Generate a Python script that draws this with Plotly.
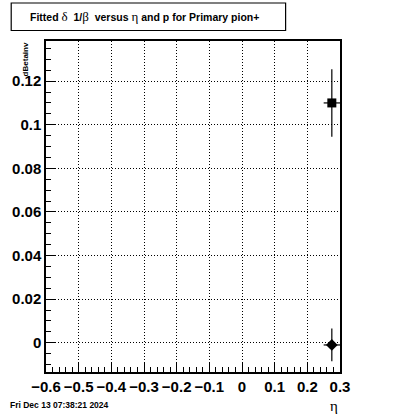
import plotly.graph_objects as go

# Data
eta_vals = [0.275, 0.275]
eta_err = [0.025, 0.025]
dbeta_vals = [0.110, -0.001]
dbeta_err = [0.0155, 0.0075]
marker_symbols = ["square", "diamond"]

x_ticks = [-0.6, -0.5, -0.4, -0.3, -0.2, -0.1, 0.0, 0.1, 0.2, 0.3]
x_ticklabels = ["\u22120.6", "\u22120.5", "\u22120.4", "\u22120.3", "\u22120.2", "\u22120.1", "0", "0.1", "0.2", "0.3"]
y_ticks = [0.0, 0.02, 0.04, 0.06, 0.08, 0.10, 0.12]
y_ticklabels = ["0", "0.02", "0.04", "0.06", "0.08", "0.1", "0.12"]

W, H = 400, 414
L, R, T, B = 40, 60, 41, 42
pw, ph = W - L - R, H - T - B

def px(x):
    return (x - L) / pw

def py(y):
    return (H - B - y) / ph

fig = go.Figure()
for i in range(len(eta_vals)):
    fig.add_trace(go.Scatter(
        x=[eta_vals[i]], y=[dbeta_vals[i]], mode="markers",
        marker=dict(symbol=marker_symbols[i], color="black", size=9,
                    line=dict(width=0)),
        error_x=dict(type="data", array=[eta_err[i]], color="black", thickness=1.2, width=0),
        error_y=dict(type="data", array=[dbeta_err[i]], color="black", thickness=1.2, width=0),
        showlegend=False,
    ))

tickfont = dict(family="Liberation Sans, Arial", size=15, color="black")
griddash = "1px,2px"

fig.update_layout(
    width=W, height=H,
    margin=dict(l=L, r=R, t=T, b=B),
    paper_bgcolor="white", plot_bgcolor="white",
    xaxis=dict(
        range=[-0.6, 0.3], tickvals=x_ticks, ticktext=[f"<b>{t}</b>" for t in x_ticklabels],
        tickfont=tickfont, ticks="inside", ticklen=9, tickcolor="black", tickwidth=1,
        minor=dict(ticks="inside", ticklen=5, dtick=0.02, tick0=0, tickcolor="black", showgrid=False),
        showgrid=True, gridcolor="black", griddash=griddash, gridwidth=1,
        showline=True, linecolor="black", linewidth=1.5, mirror=True, zeroline=False,
    ),
    yaxis=dict(
        range=[-0.0134, 0.1384], tickvals=y_ticks, ticktext=[f"<b>{t}</b>" for t in y_ticklabels],
        tickfont=tickfont, ticks="inside", ticklen=9, tickcolor="black", tickwidth=1,
        minor=dict(ticks="inside", ticklen=5, dtick=0.005, tick0=0, tickcolor="black", showgrid=False),
        showgrid=True, gridcolor="black", griddash=griddash, gridwidth=1,
        showline=True, linecolor="black", linewidth=1.5, mirror=True, zeroline=False,
    ),
)

# Title box
fig.add_shape(type="rect", xref="paper", yref="paper",
              x0=px(4.5), x1=px(284.5), y0=py(30.5), y1=py(3),
              line=dict(color="black", width=1.2), fillcolor="white")
serif = "font-family:Liberation Serif, Times New Roman;font-weight:normal;font-size:13px"
title_text = (f"<b>Fitted </b><span style='{serif}'>\u03b4</span><b>  1/</b>"
              f"<span style='{serif}'>\u03b2</span><b>  versus </b>"
              f"<span style='{serif}'>\u03b7</span><b> and p for Primary pion+</b>")
fig.add_annotation(xref="paper", yref="paper", x=px(22), y=py(16.5), xanchor="left", yanchor="middle",
                   text=title_text, showarrow=False,
                   font=dict(family="Liberation Sans, Arial", size=10.5, color="black"))

# Axis titles
fig.add_annotation(xref="paper", yref="paper", x=px(334), y=py(406), xanchor="center", yanchor="middle",
                   text="\u03b7", showarrow=False,
                   font=dict(family="Liberation Serif, Times New Roman", size=15, color="black"))
fig.add_annotation(xref="paper", yref="paper", x=px(20), y=py(40), xanchor="center", yanchor="top",
                   text="<b>dBetainv</b>", textangle=-90, showarrow=False,
                   font=dict(family="Liberation Sans, Arial", size=8, color="black"))

# Date stamp
fig.add_annotation(xref="paper", yref="paper", x=px(1), y=py(405), xanchor="left", yanchor="middle",
                   text="<b>Fri Dec 13 07:38:21 2024</b>", showarrow=False,
                   font=dict(family="Liberation Sans, Arial", size=8.5, color="black"))

fig.write_html("out.html", config={"displayModeBar": False},
               post_script="document.body.style.margin='0';document.body.style.overflow='hidden';")
